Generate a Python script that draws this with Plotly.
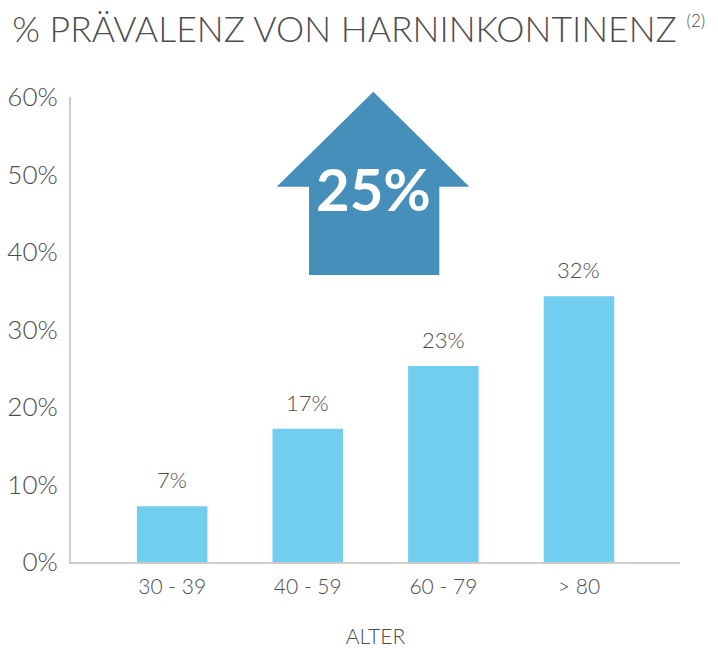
import plotly.graph_objects as go

# Data
categories = ["30 - 39", "40 - 59", "60 - 79", "> 80"]
bar_values = [7.2, 17.2, 25.3, 34.3]
value_labels = ["7%", "17%", "23%", "32%"]
y_tick_vals = [0, 10, 20, 30, 40, 50, 60]
y_tick_text = ["0%", "10%", "20%", "30%", "40%", "50%", "60%"]
title_text = "% PRÄVALENZ VON HARNINKONTINENZ"
title_ref = "(2)"
x_title = "ALTER"
highlight_text = "25%"

FONT = "Lato"
TEXT_COLOR = "#4D4D4D"
BAR_COLOR = "#71CEEE"
ARROW_COLOR = "#458FBA"
AXIS_COLOR = "#CCCCCC"

fig = go.Figure()
fig.add_trace(go.Bar(
    x=categories, y=bar_values, width=0.52,
    marker=dict(color=BAR_COLOR, line=dict(width=0)),
    hoverinfo="skip", showlegend=False,
))

# value labels above bars
for c, v, t in zip(categories, bar_values, value_labels):
    fig.add_annotation(x=c, y=v, text=t, showarrow=False, yanchor="bottom",
                       yshift=11, font=dict(family=FONT, size=22, color=TEXT_COLOR, weight=300))

# arrow shape (paper coordinates)
pts = [(0.4964, 1.0114), (0.6540, 0.8071), (0.6048, 0.8071), (0.6048, 0.6172),
       (0.3908, 0.6172), (0.3908, 0.8071), (0.3378, 0.8071)]
path = "M " + " L ".join(f"{x},{y}" for x, y in pts) + " Z"
fig.add_shape(type="path", path=path, xref="paper", yref="paper",
              fillcolor=ARROW_COLOR, line=dict(width=0), layer="above")
fig.add_annotation(x=0.497, y=0.804, xref="paper", yref="paper", text=highlight_text,
                   xanchor="center", yanchor="middle",
                   showarrow=False, font=dict(family=FONT, size=58, color="white", weight=700))

fig.update_layout(
    width=718, height=648,
    margin=dict(l=71, r=38, t=97, b=86),
    paper_bgcolor="white", plot_bgcolor="white",
    title=dict(text=f"{title_text} <sup><span style='font-size:17px'>{title_ref}</span></sup>",
               x=0.017, xanchor="left", y=0.955, yanchor="middle",
               font=dict(family=FONT, size=35.6, color=TEXT_COLOR, weight=300)),
    xaxis=dict(range=[-0.746, 3.745], showgrid=False, showline=True, linecolor=AXIS_COLOR,
               linewidth=2, ticks="", ticklabelstandoff=5, automargin=False,
               tickfont=dict(family=FONT, size=21, color=TEXT_COLOR, weight=300),
               title=dict(text=x_title, font=dict(family=FONT, size=21, color=TEXT_COLOR, weight=300),
                          standoff=35),
               fixedrange=True),
    yaxis=dict(range=[0, 60], tickvals=y_tick_vals, ticktext=y_tick_text, showgrid=False,
               zeroline=False, showline=True, linecolor=AXIS_COLOR, linewidth=2, ticks="",
               ticklabelstandoff=6, automargin=False,
               tickfont=dict(family=FONT, size=26, color=TEXT_COLOR, weight=300), fixedrange=True),
    bargap=0.5,
)

fig.write_html("out.html", config={"displayModeBar": False})
